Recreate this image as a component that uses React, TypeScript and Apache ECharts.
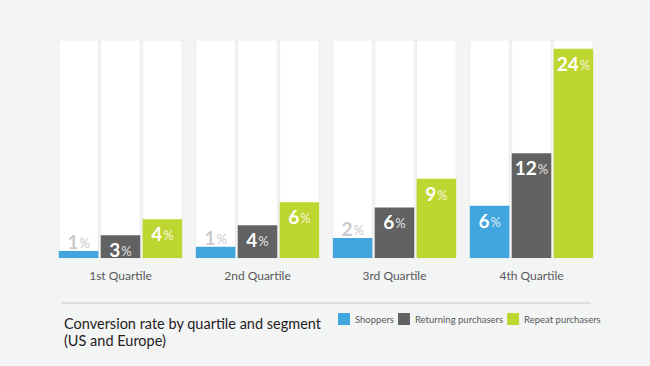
import React, { useEffect, useRef } from "react";
import * as echarts from "echarts";

const categories = ["1st Quartile", "2nd Quartile", "3rd Quartile", "4th Quartile"];
const seriesNames = ["Shoppers", "Returning purchasers", "Repeat purchasers"];
const shoppers = [0.8, 1.3, 2.3, 6.0];
const returning = [2.6, 3.75, 5.8, 12.0];
const repeat = [4.45, 6.4, 9.1, 24.0];
const colors = ["#41a6de", "#626262", "#bdd630"];
const titleLines = ["Conversion rate by quartile and segment", "(US and Europe)"];

export default function App() {
  const ref = useRef<HTMLDivElement>(null);
  useEffect(() => {
    if (!ref.current) return;
    const chart = echarts.init(ref.current, null, { renderer: "svg" });
    const numFont = "Lato, 'Open Sans', sans-serif";
    const mkData = (vals: number[]) =>
      vals.map((v) => {
        const small = v < 2.5;
        return {
          value: v,
          label: small
            ? {
                position: "top",
                distance: 0,
                rich: {
                  n: { fontSize: 19, fontWeight: 700, color: "#cacaca", fontFamily: numFont },
                  p: { fontSize: 13, color: "#cacaca", fontFamily: numFont, padding: [3, 0, 0, 1] },
                },
              }
            : undefined,
        };
      });
    const all = [shoppers, returning, repeat];
    chart.setOption({
      animation: false,
      backgroundColor: "#f3f4f4",
      title: {
        text: titleLines.join("\n"),
        left: 59,
        top: 310,
        textStyle: {
          fontFamily: "Lato, sans-serif",
          fontSize: 14.5,
          fontWeight: 400,
          color: "#1f1c1d",
          lineHeight: 17,
        },
      },
      legend: {
        left: 338,
        top: 313,
        width: 300,
        padding: 0,
        itemGap: 4,
        itemWidth: 12,
        itemHeight: 12,
        icon: "rect",
        selectedMode: false,
        textStyle: {
          fontFamily: "Lato, sans-serif",
          fontSize: 9.5,
          color: "#58595b",
        },
        data: seriesNames,
      },
      grid: { left: 52, right: 50, top: 40, bottom: 108 },
      xAxis: {
        type: "category",
        data: categories,
        axisLine: { show: false },
        axisTick: { show: false },
        axisLabel: {
          margin: 11,
          fontFamily: "Lato, sans-serif",
          fontSize: 12,
          color: "#58595b",
        },
      },
      yAxis: { type: "value", min: 0, max: 25, show: false, splitLine: { show: false } },
      graphic: [
        {
          type: "line",
          shape: { x1: 61, y1: 303, x2: 591, y2: 303 },
          style: { stroke: "#dcdddd", lineWidth: 2 },
        },
      ],
      series: all.map((vals, i) => ({
        name: seriesNames[i],
        type: "bar",
        data: mkData(vals),
        barCategoryGap: "10%",
        barGap: "6%",
        itemStyle: { color: colors[i] },
        showBackground: true,
        backgroundStyle: { color: "#ffffff", borderColor: "#ececec", borderWidth: 1 },
        label: {
          show: true,
          position: "insideTop",
          distance: 5,
          formatter: (p: any) => `{n|${Math.round(p.value)}}{p|%}`,
          rich: {
            n: { fontSize: 19, fontWeight: 700, color: "#ffffff", fontFamily: numFont },
            p: { fontSize: 13, color: "rgba(255,255,255,0.85)", fontFamily: numFont, padding: [3, 0, 0, 1] },
          },
        },
      })),
    });
    return () => chart.dispose();
  }, []);
  return (
    <div
      ref={ref}
      style={{ position: "fixed", left: 0, top: 0, width: 650, height: 366 }}
    />
  );
}
